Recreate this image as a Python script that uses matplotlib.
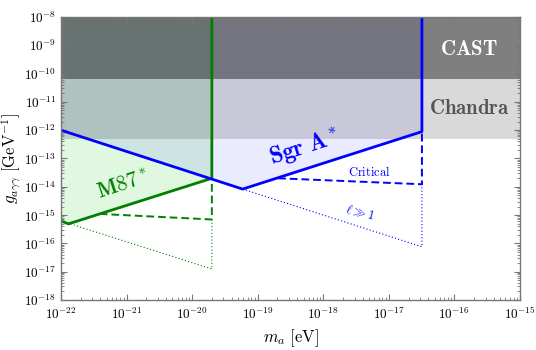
import numpy as np
import matplotlib
matplotlib.use('Agg')
import matplotlib.pyplot as plt
from matplotlib.ticker import FixedLocator, LogLocator, NullFormatter, FuncFormatter

plt.rcParams['mathtext.fontset'] = 'cm'
plt.rcParams['font.family'] = 'serif'
plt.rcParams['font.serif'] = ['DejaVu Serif']

# axis decades
x_ticks = [1e-22, 1e-21, 1e-20, 1e-19, 1e-18, 1e-17, 1e-16, 1e-15]
y_ticks = [1e-18, 1e-17, 1e-16, 1e-15, 1e-14, 1e-13, 1e-12, 1e-11, 1e-10, 1e-9, 1e-8]

# limits from the picture
cast_g = 6.6e-11
chandra_g = 5e-13

# M87* bounds
m87_m = [1e-22, 1.3e-22, 2e-20, 2e-20]
m87_g = [6.2e-16, 4.9e-16, 2e-14, 1e-8]
m87_crit_m = [3.9e-22, 2e-20, 2e-20]
m87_crit_g = [1.1e-15, 7e-16, 2e-14]
m87_l_m = [1e-22, 2e-20, 2e-20]
m87_l_g = [6.2e-16, 1.25e-17, 7e-16]

# Sgr A* bounds
sgr_m = [1e-22, 5.9e-20, 3.2e-17, 3.2e-17]
sgr_g = [1e-12, 8.3e-15, 8.9e-13, 1e-8]
sgr_crit_m = [2.05e-19, 3.2e-17, 3.2e-17]
sgr_crit_g = [2e-14, 1.23e-14, 8.9e-13]
sgr_l_m = [5.9e-20, 3.2e-17, 3.2e-17]
sgr_l_g = [8.3e-15, 7.6e-17, 1.23e-14]

green = (0.0, 0.5, 0.0)
blue = (0.0, 0.0, 1.0)

fig = plt.figure(figsize=(5.36, 3.5), dpi=100)
ax = fig.add_axes([0.1138, 0.1429, 0.8562, 0.8085])
ax.set_xscale('log')
ax.set_yscale('log')
ax.set_xlim(x_ticks[0], x_ticks[-1])
ax.set_ylim(y_ticks[0], y_ticks[-1])

# excluded regions
ax.fill_between(m87_m[:3], m87_g[:3], 1e-8, color=(0.0, 0.8, 0.0), alpha=0.12, lw=0)
ax.fill_between(sgr_m[:3], sgr_g[:3], 1e-8, color=blue, alpha=0.08, lw=0)
ax.axhspan(chandra_g, 1e-8, color='k', alpha=0.15, lw=0)
ax.axhspan(cast_g, 1e-8, color='k', alpha=0.41, lw=0)

ax.plot(m87_m, m87_g, color=green, lw=2.0)
ax.plot(m87_crit_m, m87_crit_g, color=green, lw=1.4, ls=(0, (4, 2)))
ax.plot(m87_l_m, m87_l_g, color=green, lw=0.8, ls=(0, (1, 2)))
ax.plot(sgr_m, sgr_g, color=blue, lw=2.0)
ax.plot(sgr_crit_m, sgr_crit_g, color=blue, lw=1.4, ls=(0, (4, 2)))
ax.plot(sgr_l_m, sgr_l_g, color=blue, lw=0.8, ls=(0, (1, 2)))

ax.text(1.7e-16, 7.4e-10, r'$\mathbf{CAST}$', color='white', fontsize=15,
        ha='center', va='center')
ax.text(1.7e-16, 6e-12, r'$\mathbf{Chandra}$', color='#555555', fontsize=15,
        ha='center', va='center')
ax.text(5.2e-19, 2.5e-13, r'$\mathbf{Sgr\ A^*}$', color=blue, fontsize=17,
        ha='center', va='center', rotation=18)
ax.text(8.8e-22, 1.15e-14, r'$\mathbf{M87^*}$', color=green, fontsize=15.5,
        ha='center', va='center', rotation=18)
ax.text(5.1e-18, 3.3e-14, r'$\mathrm{Critical}$', color=blue, fontsize=9,
        ha='center', va='center')
ax.text(3.6e-18, 1.3e-15, r'$\ell \gg 1$', color=blue, fontsize=9,
        ha='center', va='center', rotation=-15)

ax.set_xlabel(r'$m_a\ [\mathrm{eV}]$', fontsize=12)
ax.set_ylabel(r'$g_{a\gamma\gamma}\ [\mathrm{GeV}^{-1}]$', fontsize=12)
ax.xaxis.set_label_coords(0.5, -0.095)
ax.yaxis.set_label_coords(-0.083, 0.5)

pow_fmt = FuncFormatter(lambda v, pos: r'$10^{%d}$' % int(round(np.log10(v))))
for a, t in ((ax.xaxis, x_ticks), (ax.yaxis, y_ticks)):
    a.set_major_locator(FixedLocator(t))
    a.set_major_formatter(pow_fmt)
    a.set_minor_locator(LogLocator(base=10, subs=np.arange(2, 10), numticks=200))
    a.set_minor_formatter(NullFormatter())
ax.tick_params(which='both', direction='in', top=True, right=True, color='#777777',
               labelsize=9.5)
ax.tick_params(axis='x', which='major', pad=4.5)
ax.tick_params(which='major', length=4, width=0.8)
ax.tick_params(which='minor', length=2, width=0.6)
for s in ax.spines.values():
    s.set_color('#777777')
    s.set_linewidth(1.0)

fig.savefig('out.png', dpi=100)
